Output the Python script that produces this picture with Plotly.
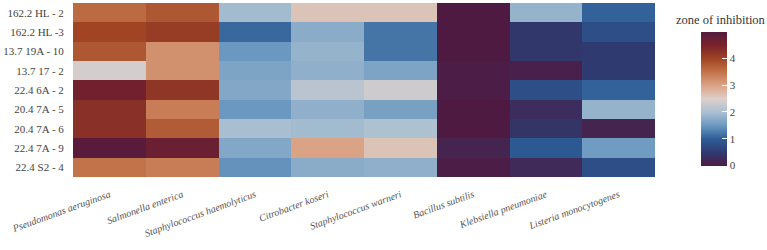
import plotly.graph_objects as go

samples = ["162.2 HL - 2", "162.2 HL -3", "13.7 19A - 10", "13.7 17 - 2", "22.4 6A - 2",
           "20.4 7A - 5", "20.4 7A - 6", "22.4 7A - 9", "22.4 S2 - 4"]
bacteria = ["Pseudomonas aeruginosa", "Salmonella enterica", "Staphylococcus haemolyticus",
            "Citrobacter koseri", "Staphylococcus warneri", "Bacillus subtilis",
            "Klebsiella pneumoniae", "Listeria monocytogenes"]

# zone of inhibition, one list per bacterium (rows in sample order)
pseudomonas = [3.6, 4.0, 3.8, 2.4, 4.6, 4.3, 4.3, 4.95, 3.5]
salmonella = [3.8, 4.1, 3.2, 3.2, 4.2, 3.4, 3.75, 4.7, 3.4]
staph_haem = [1.95, 1.1, 1.5, 1.65, 1.7, 1.5, 2.0, 1.7, 1.45]
citrobacter = [2.65, 1.75, 1.85, 1.8, 2.15, 1.8, 1.95, 3.0, 1.75]
staph_warn = [2.65, 1.2, 1.2, 1.65, 2.35, 1.6, 2.05, 2.65, 1.8]
bacillus = [0.0, 0.0, 0.0, 0.05, 0.05, 0.0, 0.0, 0.15, 0.05]
klebsiella = [1.85, 0.45, 0.45, 0.1, 0.8, 0.3, 0.4, 0.95, 0.25]
listeria = [1.05, 0.8, 0.5, 0.5, 1.05, 1.85, 0.15, 1.55, 0.8]

columns = [pseudomonas, salmonella, staph_haem, citrobacter, staph_warn, bacillus, klebsiella, listeria]
z = [[col[i] for col in columns] for i in range(len(samples))]

colorscale = [
    [0.0, "#4f1a42"], [0.1, "#2f3a70"], [0.2, "#2d5c96"], [0.3, "#6a98c0"],
    [0.4, "#a9bfd1"], [0.5, "#ddd0cc"], [0.6, "#dba386"], [0.7, "#c3734a"],
    [0.8, "#a04424"], [0.9, "#79222a"], [1.0, "#541a3e"],
]

serif = "Times New Roman"

fig = go.Figure(go.Heatmap(
    z=z, x=bacteria, y=samples, zmin=0, zmax=5, colorscale=colorscale,
    colorbar=dict(
        x=1.0794, xanchor="left", y=0.451, yanchor="middle", len=0.77, lenmode="fraction",
        thickness=26, outlinewidth=0, ticks="inside", ticklen=5, tickcolor="white",
        tickvals=[0, 1, 2, 3, 4], tickfont=dict(family=serif, size=11, color="#444"),
        xpad=0, ypad=0,
    ),
))

fig.update_layout(
    width=767, height=250,
    margin=dict(l=63, r=112, t=3, b=73),
    paper_bgcolor="white", plot_bgcolor="white",
    font=dict(family=serif, color="#444"),
    annotations=[dict(text="zone of inhibition", xref="paper", yref="paper",
                      x=(722 - 63) / 592, y=(177 - 20) / 174, xanchor="center", yanchor="middle",
                      showarrow=False, font=dict(family=serif, size=12.5, color="#333"))],
)
fig.update_xaxes(tickangle=-20, ticktext=["<i>" + b + "</i>" for b in bacteria], tickvals=bacteria,
                 tickfont=dict(family=serif, size=10, color="#555"), ticks="outside", ticklen=7,
                 tickcolor="rgba(0,0,0,0)", showgrid=False, zeroline=False)
fig.update_yaxes(autorange="reversed", tickfont=dict(family=serif, size=11, color="#444"),
                 ticks="outside", ticklen=6, tickcolor="rgba(0,0,0,0)", showgrid=False, zeroline=False)

fig.write_html("out.html")
